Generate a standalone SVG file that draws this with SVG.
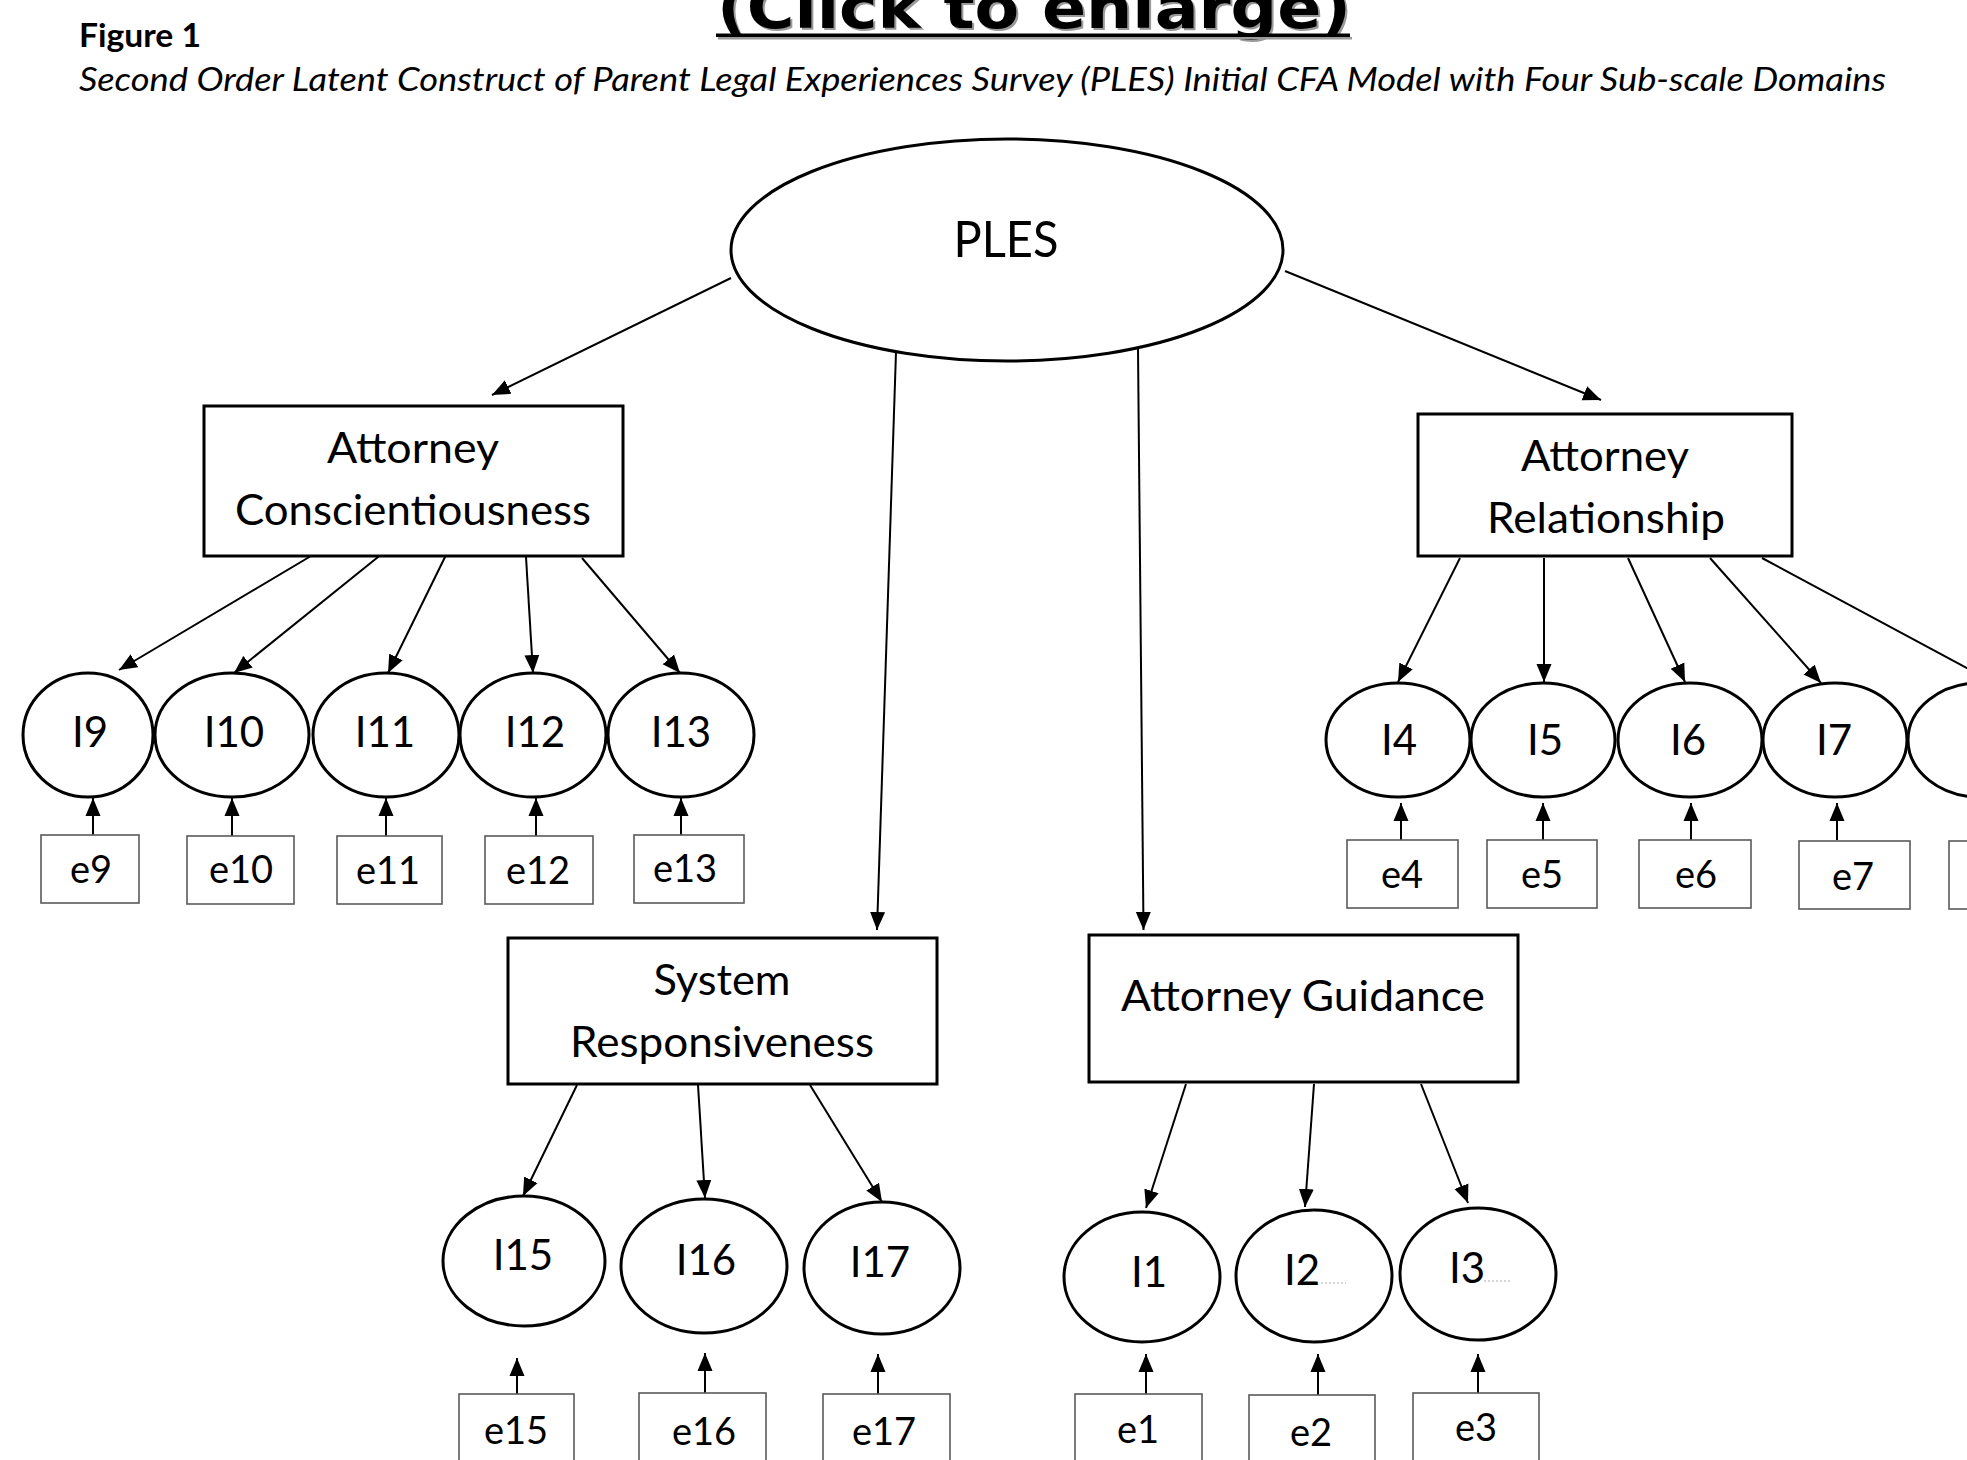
<svg xmlns="http://www.w3.org/2000/svg" width="1967" height="1460" viewBox="0 0 1967 1460">
  <defs>
    <marker id="arrow" markerUnits="userSpaceOnUse" markerWidth="19" markerHeight="16" refX="18" refY="8" orient="auto">
      <path d="M0,0.5 L18,8 L0,15.5 z" fill="#000"/>
    </marker>
    <style>
      .bg { fill: #fff; }
      .factor { fill: #fff; stroke: #000; stroke-width: 3; }
      .item { fill: #fff; stroke: #000; stroke-width: 3; }
      .err { fill: #fff; stroke: #5a5a5a; stroke-width: 1.6; }
      .link { stroke: #000; stroke-width: 2; fill: none; marker-end: url(#arrow); }
      .lbl { font-family: Lato, "Liberation Sans", sans-serif; fill: #000; text-anchor: middle; }
      .box { font-size: 43px; }
      .it { font-size: 42px; }
      .el { font-size: 38px; }
      .faint { stroke: #c8c8c8; stroke-width: 1.5; stroke-dasharray: 2 2; }
    </style>
  </defs>

  <rect class="bg" x="0" y="0" width="1967" height="1460"/>

  <!-- header -->
  <g id="header">
    <text x="719" y="30" font-family="'DejaVu Sans', sans-serif" font-weight="bold" font-size="58" fill="#9a9a9a" textLength="634" lengthAdjust="spacingAndGlyphs">(Click to enlarge)</text>
    <text x="717" y="28" font-family="'DejaVu Sans', sans-serif" font-weight="bold" font-size="58" fill="#000" textLength="634" lengthAdjust="spacingAndGlyphs">(Click to enlarge)</text>
    <rect x="718" y="37" width="634" height="2.5" fill="#9a9a9a"/>
    <rect x="716" y="33.5" width="634" height="3.5" fill="#000"/>
    <text x="79" y="47" font-family="Lato, 'Liberation Sans', sans-serif" font-weight="bold" font-size="33" fill="#000" textLength="122" lengthAdjust="spacingAndGlyphs">Figure 1</text>
    <text x="79" y="91" font-family="Lato, 'Liberation Sans', sans-serif" font-style="italic" font-size="33" fill="#000" textLength="1807" lengthAdjust="spacingAndGlyphs">Second Order Latent Construct of Parent Legal Experiences Survey (PLES) Initial CFA Model with Four Sub-scale Domains</text>
  </g>

  <!-- paths -->
  <g id="connectors">
    <!-- second-order factor to domains -->
    <line class="link" x1="731" y1="278" x2="492" y2="395"/>
    <line class="link" x1="896" y1="352" x2="877" y2="930"/>
    <line class="link" x1="1138" y1="349" x2="1143.5" y2="930"/>
    <line class="link" x1="1285" y1="271" x2="1601" y2="400"/>
    <!-- Attorney Conscientiousness items -->
    <line class="link" x1="316" y1="553" x2="119" y2="670"/>
    <line class="link" x1="383" y1="553" x2="234" y2="673"/>
    <line class="link" x1="447" y1="553" x2="388" y2="673"/>
    <line class="link" x1="526" y1="557" x2="533" y2="673"/>
    <line class="link" x1="582" y1="558" x2="680" y2="673"/>
    <!-- Attorney Relationship items -->
    <line class="link" x1="1460" y1="558" x2="1398" y2="682"/>
    <line class="link" x1="1544" y1="558" x2="1544" y2="682"/>
    <line class="link" x1="1628" y1="558" x2="1685" y2="682"/>
    <line class="link" x1="1710" y1="558" x2="1821" y2="683"/>
    <line class="link" x1="1762" y1="558" x2="1993" y2="682"/>
    <!-- System Responsiveness items -->
    <line class="link" x1="577" y1="1085" x2="523" y2="1196"/>
    <line class="link" x1="698" y1="1085" x2="705" y2="1198"/>
    <line class="link" x1="810" y1="1085" x2="882" y2="1202"/>
    <!-- Attorney Guidance items -->
    <line class="link" x1="1186" y1="1084" x2="1146" y2="1208"/>
    <line class="link" x1="1314" y1="1084" x2="1305" y2="1207"/>
    <line class="link" x1="1421" y1="1084" x2="1468" y2="1203"/>
    <!-- error terms -->
    <line class="link" x1="93" y1="835" x2="93" y2="798"/>
    <line class="link" x1="232" y1="836" x2="232" y2="798"/>
    <line class="link" x1="386" y1="836" x2="386" y2="798"/>
    <line class="link" x1="536" y1="836" x2="536" y2="798"/>
    <line class="link" x1="681" y1="835" x2="681" y2="798"/>
    <line class="link" x1="1401" y1="840" x2="1401" y2="803"/>
    <line class="link" x1="1543" y1="840" x2="1543" y2="803"/>
    <line class="link" x1="1691" y1="840" x2="1691" y2="803"/>
    <line class="link" x1="1837" y1="840" x2="1837" y2="803"/>
    <line class="link" x1="1985" y1="840" x2="1985" y2="803"/>
    <line class="link" x1="517" y1="1394" x2="517" y2="1358"/>
    <line class="link" x1="705" y1="1393" x2="705" y2="1353"/>
    <line class="link" x1="878" y1="1394" x2="878" y2="1354"/>
    <line class="link" x1="1146" y1="1394" x2="1146" y2="1354"/>
    <line class="link" x1="1318" y1="1395" x2="1318" y2="1354"/>
    <line class="link" x1="1478" y1="1393" x2="1478" y2="1354"/>
  </g>

  <!-- second-order factor -->
  <g id="PLES">
    <ellipse class="item" cx="1007" cy="250" rx="276" ry="111"/>
    <text class="lbl" x="1006" y="257" font-size="51" textLength="105" lengthAdjust="spacingAndGlyphs">PLES</text>
  </g>

  <!-- domain boxes -->
  <g id="AttorneyConscientiousness">
    <rect class="factor" x="204" y="406" width="419" height="150"/>
    <text class="lbl box" x="413" y="463" textLength="172" lengthAdjust="spacingAndGlyphs">Attorney</text>
    <text class="lbl box" x="413" y="525" textLength="356" lengthAdjust="spacingAndGlyphs">Conscientiousness</text>
  </g>
  <g id="AttorneyRelationship">
    <rect class="factor" x="1418" y="414" width="374" height="142"/>
    <text class="lbl box" x="1605" y="471" textLength="168" lengthAdjust="spacingAndGlyphs">Attorney</text>
    <text class="lbl box" x="1606" y="533" textLength="238" lengthAdjust="spacingAndGlyphs">Relationship</text>
  </g>
  <g id="SystemResponsiveness">
    <rect class="factor" x="508" y="938" width="429" height="146"/>
    <text class="lbl box" x="722" y="995" textLength="137" lengthAdjust="spacingAndGlyphs">System</text>
    <text class="lbl box" x="722" y="1057" textLength="304" lengthAdjust="spacingAndGlyphs">Responsiveness</text>
  </g>
  <g id="AttorneyGuidance">
    <rect class="factor" x="1089" y="935" width="429" height="147"/>
    <text class="lbl box" x="1303" y="1011" textLength="364" lengthAdjust="spacingAndGlyphs">Attorney Guidance</text>
  </g>

  <!-- items -->
  <g id="I9"><ellipse class="item" cx="88" cy="735" rx="65" ry="62"/><text class="lbl it" x="90" y="747">I9</text></g>
  <g id="I10"><ellipse class="item" cx="232" cy="735" rx="77" ry="62"/><text class="lbl it" x="234" y="747">I10</text></g>
  <g id="I11"><ellipse class="item" cx="386" cy="735" rx="73" ry="62"/><text class="lbl it" x="385" y="747">I11</text></g>
  <g id="I12"><ellipse class="item" cx="533" cy="735" rx="73" ry="62"/><text class="lbl it" x="535" y="747">I12</text></g>
  <g id="I13"><ellipse class="item" cx="681" cy="735" rx="73" ry="62"/><text class="lbl it" x="681" y="747">I13</text></g>

  <g id="I4"><ellipse class="item" cx="1398" cy="740" rx="72" ry="57"/><text class="lbl it" x="1399" y="755">I4</text></g>
  <g id="I5"><ellipse class="item" cx="1543" cy="740" rx="72" ry="57"/><text class="lbl it" x="1545" y="755">I5</text></g>
  <g id="I6"><ellipse class="item" cx="1690" cy="740" rx="72" ry="57"/><text class="lbl it" x="1688" y="755">I6</text></g>
  <g id="I7"><ellipse class="item" cx="1835" cy="740" rx="72" ry="57"/><text class="lbl it" x="1834" y="755">I7</text></g>
  <g id="I8"><ellipse class="item" cx="1980" cy="740" rx="72" ry="57"/><text class="lbl it" x="1982" y="755">I8</text></g>

  <g id="I15"><ellipse class="item" cx="524" cy="1261" rx="81" ry="65"/><text class="lbl it" x="523" y="1270">I15</text></g>
  <g id="I16"><ellipse class="item" cx="704" cy="1266" rx="83" ry="67"/><text class="lbl it" x="706" y="1275">I16</text></g>
  <g id="I17"><ellipse class="item" cx="882" cy="1268" rx="78" ry="66"/><text class="lbl it" x="880" y="1277">I17</text></g>

  <g id="I1"><ellipse class="item" cx="1142" cy="1277" rx="78" ry="65"/><text class="lbl it" x="1149" y="1287">I1</text></g>
  <g id="I2"><ellipse class="item" cx="1314" cy="1276" rx="78" ry="66"/><text class="lbl it" x="1302" y="1285">I2</text><line class="faint" x1="1321" y1="1283" x2="1346" y2="1283"/></g>
  <g id="I3"><ellipse class="item" cx="1478" cy="1274" rx="78" ry="66"/><text class="lbl it" x="1467" y="1283">I3</text><line class="faint" x1="1484" y1="1281" x2="1510" y2="1281"/></g>

  <!-- error terms -->
  <g id="e9"><rect class="err" x="41" y="835" width="98" height="68"/><text class="lbl el" x="91" y="883">e9</text></g>
  <g id="e10"><rect class="err" x="187" y="836" width="107" height="68"/><text class="lbl el" x="241" y="883">e10</text></g>
  <g id="e11"><rect class="err" x="337" y="836" width="105" height="68"/><text class="lbl el" x="388" y="884">e11</text></g>
  <g id="e12"><rect class="err" x="485" y="836" width="108" height="68"/><text class="lbl el" x="538" y="884">e12</text></g>
  <g id="e13"><rect class="err" x="634" y="835" width="110" height="68"/><text class="lbl el" x="685" y="882">e13</text></g>

  <g id="e4"><rect class="err" x="1347" y="840" width="111" height="68"/><text class="lbl el" x="1402" y="888">e4</text></g>
  <g id="e5"><rect class="err" x="1487" y="840" width="110" height="68"/><text class="lbl el" x="1542" y="888">e5</text></g>
  <g id="e6"><rect class="err" x="1639" y="840" width="112" height="68"/><text class="lbl el" x="1696" y="888">e6</text></g>
  <g id="e7"><rect class="err" x="1799" y="841" width="111" height="68"/><text class="lbl el" x="1853" y="890">e7</text></g>
  <g id="e8"><rect class="err" x="1949" y="841" width="111" height="68"/></g>

  <g id="e15"><rect class="err" x="459" y="1394" width="115" height="90"/><text class="lbl el" x="516" y="1444">e15</text></g>
  <g id="e16"><rect class="err" x="639" y="1393" width="127" height="90"/><text class="lbl el" x="704" y="1445">e16</text></g>
  <g id="e17"><rect class="err" x="823" y="1394" width="127" height="90"/><text class="lbl el" x="884" y="1445">e17</text></g>
  <g id="e1"><rect class="err" x="1075" y="1394" width="127" height="90"/><text class="lbl el" x="1138" y="1443">e1</text></g>
  <g id="e2"><rect class="err" x="1249" y="1395" width="126" height="90"/><text class="lbl el" x="1311" y="1446">e2</text></g>
  <g id="e3"><rect class="err" x="1413" y="1393" width="126" height="90"/><text class="lbl el" x="1476" y="1441">e3</text></g>
</svg>
